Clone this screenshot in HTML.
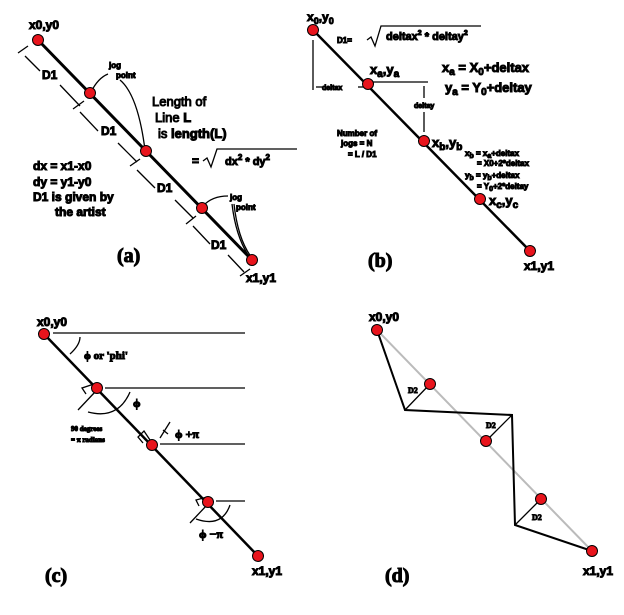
<!DOCTYPE html>
<html><head><meta charset="utf-8"><style>
html,body{margin:0;padding:0;background:#fff;width:624px;height:615px;overflow:hidden}
svg{display:block}
.s{font-family:"Liberation Sans",sans-serif;font-weight:bold;fill:#000}
.r{font-family:"Liberation Serif",serif;font-weight:bold;fill:#000}
.n{font-family:"Liberation Sans",sans-serif;fill:#000}
</style></head><body>
<svg width="624" height="615" viewBox="0 0 624 615" xmlns="http://www.w3.org/2000/svg">
<g stroke="#000" fill="none">
<!-- (a) -->
<line x1="38" y1="40" x2="252" y2="260" stroke-width="3"/>
<g stroke-width="1.3">
<line x1="25" y1="56" x2="40" y2="71"/><line x1="60" y1="85" x2="80" y2="106"/>
<line x1="80" y1="112" x2="98" y2="131"/><line x1="118" y1="143" x2="137" y2="162"/>
<line x1="137" y1="170" x2="155" y2="188"/><line x1="175" y1="200" x2="193" y2="218"/>
<line x1="193" y1="226" x2="210" y2="244"/><line x1="228" y1="255" x2="244" y2="272"/>
<line x1="18" y1="53" x2="28" y2="46"/><line x1="73" y1="109" x2="84" y2="101"/>
<line x1="130" y1="166" x2="140" y2="159"/><line x1="186" y1="224" x2="196" y2="216"/>
<line x1="240" y1="276" x2="250" y2="269"/>
<path d="M91 92 Q98 78 108 74"/><path d="M120 80 Q138 95 145 150"/>
<path d="M203 206 Q212 196 228 196"/><path d="M234 204 Q238 240 252 258"/><path d="M232 204 Q236 238 250 258"/>
<path d="M203 161 l4 -3 l4 9 l6 -18 h80"/>
<!-- (b) -->
<line x1="313" y1="40" x2="313" y2="90"/>
<line x1="316" y1="87" x2="322" y2="87"/><line x1="358" y1="87" x2="366" y2="87"/>
<line x1="370" y1="82" x2="428" y2="82"/><line x1="424" y1="86" x2="424" y2="98"/><line x1="424" y1="112" x2="424" y2="132"/>
<path d="M367 40 l4 -3 l4 9 l6 -20 h100"/>
<!-- (c) -->
<line x1="53" y1="333" x2="245" y2="333"/><line x1="105" y1="388" x2="245" y2="388"/>
<line x1="160" y1="444" x2="245" y2="444"/><line x1="216" y1="501" x2="245" y2="501"/>
<path d="M70 354 Q80 345 80 337"/>
<path d="M97 383 l-15 5 l4 6"/><line x1="78" y1="410" x2="95" y2="392"/>
<path d="M88 412 Q118 420 130 392"/>
<path d="M150 440 l-6 -9 l-6 6 l5 6"/><line x1="160" y1="438" x2="170" y2="422"/><path d="M163 430 l5 4"/>
<path d="M207 497 l-11 3 l3 6"/><line x1="190" y1="523" x2="207" y2="505"/>
<path d="M196 519 Q222 528 230 505"/>
<!-- (d) -->
<line x1="377" y1="330" x2="592" y2="551" stroke="#bbb" stroke-width="2"/>
<path d="M377 330 L405 410 L512 415 L515 525 L592 551" stroke-width="2"/>
<line x1="405" y1="410" x2="430" y2="384"/><line x1="512" y1="415" x2="486" y2="441"/><line x1="515" y1="525" x2="541" y2="499"/>
</g>
<line x1="313" y1="30" x2="530" y2="251" stroke="#000" stroke-width="2.5"/>
<line x1="44" y1="334" x2="258" y2="556" stroke="#000" stroke-width="2.5"/>
<g fill="#e8141c">
<circle cx="38" cy="40" r="5.5"/><circle cx="90" cy="93" r="5.5"/><circle cx="146" cy="151" r="5.5"/><circle cx="202" cy="208" r="5.5"/><circle cx="252" cy="260" r="5.5"/>
<circle cx="313" cy="30" r="5.5"/><circle cx="368" cy="84" r="5.5"/><circle cx="424" cy="141" r="5.5"/><circle cx="480" cy="199" r="5.5"/><circle cx="530" cy="251" r="5.5"/>
<circle cx="44" cy="334" r="5.5"/><circle cx="97" cy="388" r="5.5"/><circle cx="152" cy="445" r="5.5"/><circle cx="208" cy="502" r="5.5"/><circle cx="258" cy="556" r="5.5"/>
<circle cx="377" cy="330" r="5.5"/><circle cx="430" cy="384" r="5.5"/><circle cx="486" cy="441" r="5.5"/><circle cx="541" cy="499" r="5.5"/><circle cx="592" cy="551" r="5.5"/>
</g>
<!-- text (a) -->
<text class="s" x="29" y="29" font-size="12">x0,y0</text>
<text class="s" x="42" y="79" font-size="12">D1</text>
<text class="s" x="101" y="135" font-size="12">D1</text>
<text class="s" x="157" y="192" font-size="12">D1</text>
<text class="s" x="211" y="249" font-size="12">D1</text>
<text class="s" x="109" y="68" font-size="8">jog</text>
<text class="s" x="116" y="78" font-size="8">point</text>
<text class="s" x="230" y="200" font-size="8">jog</text>
<text class="s" x="236" y="210" font-size="8">point</text>
<text class="n" x="152" y="106" font-size="13">Length of</text>
<text class="n" x="155" y="122" font-size="13">Line <tspan font-weight="bold">L</tspan></text>
<text class="n" x="158" y="138" font-size="13">is <tspan font-weight="bold">length(L)</tspan></text>
<text class="s" x="192" y="165" font-size="12">=</text>
<text class="s" x="225" y="165" font-size="11">dx<tspan font-size="8" dy="-5">2</tspan><tspan dy="5"> * dy</tspan><tspan font-size="8" dy="-5">2</tspan></text>
<text class="s" x="33" y="170" font-size="12">dx = x1-x0</text>
<text class="s" x="33" y="186" font-size="12">dy = y1-y0</text>
<text class="s" x="33" y="201" font-size="12">D1 is given by</text>
<text class="s" x="55" y="216" font-size="12">the artist</text>
<text class="r" x="117" y="262" font-size="20">(a)</text>
<text class="s" x="246" y="282" font-size="12">x1,y1</text>
<!-- text (b) -->
<text class="s" x="307" y="21" font-size="12">x<tspan font-size="9" dy="3">0</tspan><tspan dy="-3">,y</tspan><tspan font-size="9" dy="3">0</tspan></text>
<text class="s" x="337" y="43" font-size="8">D1=</text>
<text class="s" x="386" y="40" font-size="11">deltax<tspan font-size="7" dy="-5">2</tspan><tspan dy="5"> * deltay</tspan><tspan font-size="7" dy="-5">2</tspan></text>
<text class="s" x="370" y="74" font-size="13">x<tspan font-size="10" dy="3">a</tspan><tspan dy="-3">,y</tspan><tspan font-size="10" dy="3">a</tspan></text>
<text class="s" x="442" y="72" font-size="13">x<tspan font-size="10" dy="3">a</tspan><tspan dy="-3"> = X</tspan><tspan font-size="10" dy="3">0</tspan><tspan dy="-3">+deltax</tspan></text>
<text class="s" x="445" y="92" font-size="13">y<tspan font-size="10" dy="3">a</tspan><tspan dy="-3"> = Y</tspan><tspan font-size="10" dy="3">0</tspan><tspan dy="-3">+deltay</tspan></text>
<text class="s" x="322" y="90" font-size="7">deltax</text>
<text class="s" x="414" y="108" font-size="7">deltay</text>
<text class="s" x="337" y="136" font-size="8">Number of</text>
<text class="s" x="341" y="146" font-size="8">jogs = N</text>
<text class="s" x="348" y="157" font-size="8">= L / D1</text>
<text class="s" x="432" y="147" font-size="13">x<tspan font-size="10" dy="3">b</tspan><tspan dy="-3">,y</tspan><tspan font-size="10" dy="3">b</tspan></text>
<text class="s" x="465" y="156" font-size="8">x<tspan font-size="7" dy="2">b</tspan><tspan dy="-2"> = x</tspan><tspan font-size="7" dy="2">a</tspan><tspan dy="-2">+deltax</tspan></text>
<text class="s" x="477" y="166" font-size="8">= X0+2*deltax</text>
<text class="s" x="465" y="178" font-size="8">y<tspan font-size="7" dy="2">b</tspan><tspan dy="-2"> = y</tspan><tspan font-size="7" dy="2">b</tspan><tspan dy="-2">+deltax</tspan></text>
<text class="s" x="477" y="189" font-size="8">= Y<tspan font-size="7" dy="2">0</tspan><tspan dy="-2">+2*deltay</tspan></text>
<text class="s" x="489" y="205" font-size="13">x<tspan font-size="10" dy="3">c</tspan><tspan dy="-3">,y</tspan><tspan font-size="10" dy="3">c</tspan></text>
<text class="r" x="368" y="267" font-size="20">(b)</text>
<text class="s" x="524" y="270" font-size="12">x1,y1</text>
<!-- text (c) -->
<text class="s" x="37" y="326" font-size="12">x0,y0</text>
<text class="r" x="84" y="359" font-size="11">ϕ  or 'phi'</text>
<text class="r" x="133" y="407" font-size="12">ϕ</text>
<text class="r" x="71" y="431" font-size="7">90 degrees</text>
<text class="r" x="71" y="442" font-size="7">= π radians</text>
<text class="r" x="175" y="438" font-size="12">ϕ +π</text>
<text class="r" x="199" y="538" font-size="12">ϕ −π</text>
<text class="r" x="45" y="582" font-size="20">(c)</text>
<text class="s" x="252" y="575" font-size="12">x1,y1</text>
<!-- text (d) -->
<text class="s" x="369" y="321" font-size="12">x0,y0</text>
<text class="r" x="408" y="393" font-size="8">D2</text>
<text class="r" x="486" y="428" font-size="8">D2</text>
<text class="r" x="532" y="520" font-size="8">D2</text>
<text class="r" x="385" y="582" font-size="20">(d)</text>
<text class="s" x="583" y="575" font-size="12">x1,y1</text>
</svg>
</body></html>
